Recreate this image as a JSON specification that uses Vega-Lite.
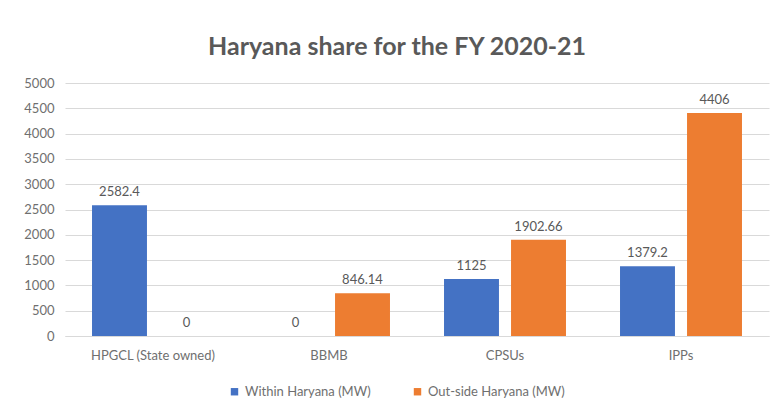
{
  "$schema": "https://vega.github.io/schema/vega-lite/v6.json",
  "autosize": {"type": "none"},
  "width": 704,
  "height": 253,
  "padding": {"left": 65, "top": 83, "right": 7, "bottom": 74},
  "background": "white",
  "title": {
    "text": "Haryana share for the FY 2020-21",
    "anchor": "middle",
    "dx": -20,
    "offset": 17,
    "font": "Lato",
    "fontSize": 25,
    "fontWeight": "bold",
    "color": "#595959"
  },
  "data": {
    "values": [
      {"category": "HPGCL (State owned)", "series": "Within Haryana (MW)", "value": 2582.4},
      {"category": "HPGCL (State owned)", "series": "Out-side Haryana (MW)", "value": 0},
      {"category": "BBMB", "series": "Within Haryana (MW)", "value": 0},
      {"category": "BBMB", "series": "Out-side Haryana (MW)", "value": 846.14},
      {"category": "CPSUs", "series": "Within Haryana (MW)", "value": 1125},
      {"category": "CPSUs", "series": "Out-side Haryana (MW)", "value": 1902.66},
      {"category": "IPPs", "series": "Within Haryana (MW)", "value": 1379.2},
      {"category": "IPPs", "series": "Out-side Haryana (MW)", "value": 4406}
    ]
  },
  "encoding": {
    "x": {
      "field": "category",
      "type": "nominal",
      "sort": null,
      "title": null,
      "scale": {"paddingInner": 0.307, "paddingOuter": 0.1535},
      "axis": {
        "labelAngle": 0,
        "ticks": false,
        "domainColor": "#d9d9d9",
        "labelColor": "#6f6f6f",
        "labelFont": "Lato",
        "labelFontSize": 13,
        "labelPadding": 13
      }
    },
    "xOffset": {
      "field": "series",
      "type": "nominal",
      "sort": ["Within Haryana (MW)", "Out-side Haryana (MW)"],
      "scale": {"paddingInner": 0.18, "paddingOuter": 0}
    },
    "y": {
      "field": "value",
      "type": "quantitative",
      "title": null,
      "scale": {"domain": [0, 5000], "nice": false},
      "axis": {
        "values": [0, 500, 1000, 1500, 2000, 2500, 3000, 3500, 4000, 4500, 5000],
        "format": "d",
        "domain": false,
        "ticks": false,
        "gridColor": "#d9d9d9",
        "labelColor": "#6f6f6f",
        "labelFont": "Lato",
        "labelFontSize": 13,
        "labelPadding": 11
      }
    }
  },
  "layer": [
    {
      "mark": {"type": "bar"},
      "encoding": {
        "color": {
          "field": "series",
          "type": "nominal",
          "sort": ["Within Haryana (MW)", "Out-side Haryana (MW)"],
          "scale": {"domain": ["Within Haryana (MW)", "Out-side Haryana (MW)"], "range": ["#4472C4", "#ED7D31"]},
          "legend": {
            "title": null,
            "orient": "none",
            "legendX": 163,
            "legendY": 302,
            "direction": "horizontal",
            "symbolType": "square",
            "symbolSize": 55,
            "symbolStrokeWidth": 0,
            "labelColor": "#6f6f6f",
            "labelFont": "Lato",
            "labelFontSize": 13,
            "columnPadding": 40
          }
        }
      }
    },
    {
      "mark": {"type": "text", "baseline": "alphabetic", "dy": -9, "font": "Lato", "fontSize": 13, "color": "#595959"},
      "encoding": {
        "text": {"field": "value", "type": "quantitative", "format": ".6~g"}
      }
    }
  ],
  "config": {
    "view": {"stroke": null}
  }
}
